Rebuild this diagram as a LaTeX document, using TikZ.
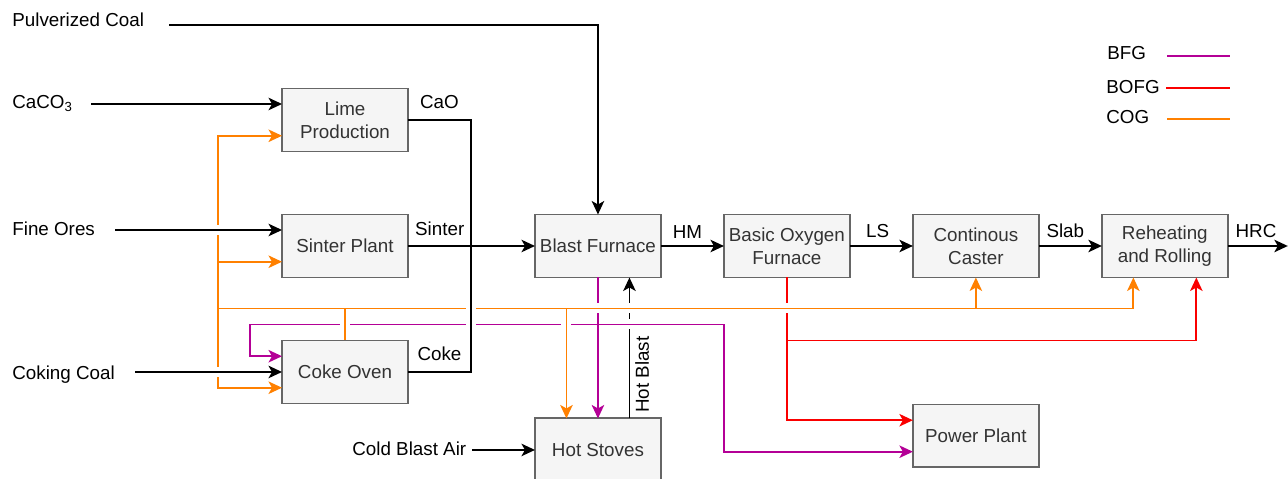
\documentclass[tikz,border=0pt]{standalone}
\usepackage{fontspec}
\setmainfont{Liberation Sans}
\usetikzlibrary{arrows.meta, positioning, calc}
\usepackage{xcolor}
\definecolor{boxfill}{RGB}{245, 245, 245}
\definecolor{boxline}{RGB}{102, 102, 102}
\definecolor{boxtext}{RGB}{51, 51, 51}
\definecolor{bfgcol}{RGB}{180, 0, 150}
\definecolor{bofgcol}{RGB}{250, 0, 0}
\definecolor{cogcol}{RGB}{255, 128, 0}

% line jumps: cut the line under a crossing, redraw the crossing one
\newcommand{\hopv}[2]{%
  \fill[white, shift={(#1)}] (-2,-5) rectangle (2,5);
  \draw[#2, shift={(#1)}] (-3,0) -- (3,0);}
\newcommand{\hoph}[2]{%
  \fill[white, shift={(#1)}] (-5,-2) rectangle (5,2);
  \draw[#2, shift={(#1)}] (0,-3) -- (0,3);}

\begin{document}
\begin{tikzpicture}[
    x=0.02cm, y=-0.02cm,
    font=\fontsize{10.7}{13}\selectfont,
    box/.style={rectangle, draw=boxline, fill=boxfill, text=boxtext, line width=1.1pt, minimum width=2.52cm, minimum height=1.26cm, inner sep=1pt, outer sep=0pt, align=center},
    lbl/.style={inner sep=0pt, text=black},
    flow/.style={line width=1pt},
    bfg/.style={flow, draw=bfgcol},
    bofg/.style={flow, draw=bofgcol},
    cog/.style={flow, draw=cogcol},
    arrow/.style={-{Stealth[length=2.7mm, width=2.5mm, inset=0.7mm]}}
]
\useasboundingbox (0,0) rectangle (1288,479);

% Units
\node[box] (sinter) at (345,246) {Sinter Plant};
\node[box, above=1.26cm of sinter] (lime) {Lime\\Production};
\node[box, below=1.26cm of sinter] (coke) {Coke Oven};
\node[box, right=2.54cm of sinter] (bf) {Blast Furnace};
\node[box, right=1.26cm of bf] (bof) {Basic Oxygen\\Furnace};
\node[box, right=1.26cm of bof] (caster) {Continous\\Caster};
\node[box, right=1.26cm of caster] (reheat) {Reheating\\and Rolling};
\node[box, below=2.82cm of bf] (stoves) {Hot Stoves};
\node[box, below=2.54cm of caster] (power) {Power Plant};

% Inputs
\node[lbl, anchor=base west] (coal) at (12,27) {Pulverized Coal};
\node[lbl, anchor=base west] (caco3) at (12,109) {CaCO\textsubscript{3}};
\node[lbl, anchor=base west] (ores) at (12,236) {Fine Ores};
\node[lbl, anchor=base west] (cokingcoal) at (12,379) {Coking Coal};
\node[lbl, anchor=base west] (coldair) at (352,456) {Cold Blast Air};
\coordinate (coal-in) at (169,25);
\coordinate (caco3-in) at (91,104);
\coordinate (ores-in) at (115,230);
\coordinate (cc-in) at (135,0 |- coke.west);
\coordinate (air-in) at (472,0 |- stoves.west);

\draw[flow, arrow] (coal-in) -| (bf.north);
\draw[flow, arrow] (caco3-in) -- (caco3-in -| lime.west);
\draw[flow, arrow] (ores-in) -- (ores-in -| sinter.west);
\draw[flow, arrow] (cc-in) -- (coke.west);
\draw[flow, arrow] (air-in) -- (stoves.west);

% Main line
\coordinate (feed) at (471,246);
\coordinate[right=1.2cm of reheat.east] (hrc-end);
\draw[flow] (lime.east) -| node[lbl, pos=.25, above=0.2cm] {CaO} (feed);
\draw[flow] (coke.east) -| node[lbl, pos=.25, above=0.2cm] {Coke} (feed);
\draw[flow, arrow] (sinter.east) -- node[lbl, pos=.25, above=0.19cm] {Sinter} (bf.west);
\draw[flow, arrow] (bf) -- node[lbl, pos=.42, above=0.14cm] {HM} (bof);
\draw[flow, arrow] (bof) -- node[lbl, pos=.44, above=0.14cm] {LS} (caster);
\draw[flow, arrow] (caster) -- node[lbl, pos=.42, above=0.14cm] {Slab} (reheat);
\draw[flow, arrow] (reheat) -- node[lbl, pos=.47, above=0.14cm] {HRC} (hrc-end);

% Hot blast
\coordinate (blast-in) at ($(stoves.north west)!.75!(stoves.north east)$);
\draw[flow, arrow] (blast-in) -- node[lbl, pos=.31, rotate=90, anchor=north, inner sep=0.1cm] {Hot Blast} ($(bf.south west)!.75!(bf.south east)$);

% BFG
\coordinate (bfg-tap) at ($(bf.south)+(0,47)$);
\coordinate (bfg-west) at (250,0 |- bfg-tap);
\coordinate (bfg-east) at (724,0 |- bfg-tap);
\draw[bfg, arrow] (bf.south) -- (stoves.north);
\draw[bfg, arrow] (bfg-tap) -- (bfg-west) |- ($(coke.north west)!.25!(coke.south west)$);
\draw[bfg, arrow] (bfg-tap) -- (bfg-east) |- ($(power.north west)!.75!(power.south west)$);

% COG
\coordinate (cog-bus) at ($(coke.north)+(0,-32)$);
\coordinate (cog-trunk) at (218,0 |- cog-bus);
\coordinate (cog-stoves) at ($(stoves.north west)!.25!(stoves.north east)$);
\draw[cog] (coke.north) -- (cog-bus) -- (cog-trunk);
\draw[cog, arrow] (cog-trunk) |- ($(lime.north west)!.75!(lime.south west)$);
\draw[cog, arrow] (cog-trunk) |- ($(sinter.north west)!.75!(sinter.south west)$);
\draw[cog, arrow] (cog-trunk) |- ($(coke.north west)!.75!(coke.south west)$);
\draw[cog, arrow] (cog-bus) -| (cog-stoves);
\draw[cog, arrow] (cog-bus) -| (caster.south);
\draw[cog, arrow] (cog-bus) -| ($(reheat.south west)!.25!(reheat.south east)$);

% BOFG
\coordinate (bofg-tap) at ($(bof.south)+(0,63)$);
\draw[bofg, arrow] (bof.south) |- ($(power.north west)!.25!(power.south west)$);
\draw[bofg, arrow] (bofg-tap) -| ($(reheat.south west)!.75!(reheat.south east)$);

% Line jumps
\hopv{cog-trunk |- ores-in}{flow}
\hopv{cog-trunk |- cc-in}{flow}
\hoph{feed |- cog-bus}{flow}
\hoph{coke.north |- bfg-tap}{cog}
\hoph{feed |- bfg-tap}{flow}
\hoph{cog-stoves |- bfg-tap}{cog}
\hopv{bf.south |- cog-bus}{cog}
\hopv{blast-in |- cog-bus}{cog}
\hopv{blast-in |- bfg-tap}{bfg}
\hopv{bof.south |- cog-bus}{cog}

% Legend
\node[lbl, anchor=base west] (key-bfg) at (1107,60) {BFG};
\node[lbl, anchor=base west] (key-bofg) at (1106,94) {BOFG};
\node[lbl, anchor=base west] (key-cog) at (1106,124) {COG};
\draw[bfg] (1167,56) -- (1230,56);
\draw[bofg] (1166,88) -- (1230,88);
\draw[cog] (1167,119) -- (1230,119);

\end{tikzpicture}
\end{document}
